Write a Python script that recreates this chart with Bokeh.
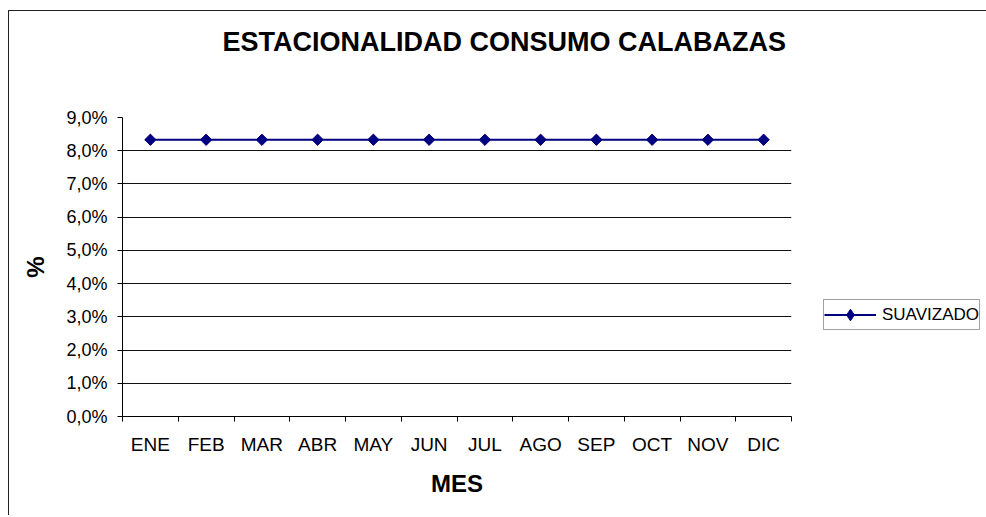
from bokeh.plotting import figure
from bokeh.models import ColumnDataSource, Range1d, FixedTicker, Legend, LegendItem, Title
from bokeh.embed import file_html
from bokeh.resources import INLINE
import math

# ---- data ----
months = ["ENE", "FEB", "MAR", "ABR", "MAY", "JUN", "JUL", "AGO", "SEP", "OCT", "NOV", "DIC"]
suavizado = [0.0833, 0.0833, 0.0833, 0.0833, 0.0833, 0.0833,
             0.0833, 0.0833, 0.0833, 0.0833, 0.0833, 0.0833]
y_ticks = [0.00, 0.01, 0.02, 0.03, 0.04, 0.05, 0.06, 0.07, 0.08, 0.09]
y_tick_labels = ["0,0%", "1,0%", "2,0%", "3,0%", "4,0%", "5,0%", "6,0%", "7,0%", "8,0%", "9,0%"]
series_name = "SUAVIZADO"
title_text = "ESTACIONALIDAD CONSUMO CALABAZAS"
x_title = "MES"
y_title = "%"

FONT = "Liberation Sans"
NAVY = "#000080"

x_centers = [i + 0.5 for i in range(len(months))]
x_bounds = [i for i in range(len(months) + 1)]

source = ColumnDataSource(data=dict(x=x_centers, y=suavizado, mes=months))
# first point only: carries the legend's diamond symbol (hidden under the real marker)
legend_source = ColumnDataSource(data=dict(x=x_centers[:1], y=suavizado[:1]))

p = figure(frame_width=669, frame_height=299, output_backend="svg", toolbar_location=None, title=None,
           x_range=Range1d(0, len(months)), y_range=Range1d(y_ticks[0], y_ticks[-1]),
           min_border_left=113, min_border_right=193, min_border_top=106, min_border_bottom=99,
           background_fill_color="white", border_fill_color="white")
p.outline_line_color = None
p.styles = {"border-top": "1px solid #222222", "border-left": "1px solid #222222",
            "margin-top": "10px", "margin-left": "8px"}

# spacer between title and plot area, then the title itself
spacer = Title(text=" ", text_font_size="10px", standoff=43, text_color="white")
p.add_layout(spacer, "above")
title = Title(text=title_text, text_font=FONT, text_font_size="27px", text_font_style="bold",
              text_color="black", align="left", offset=100)
p.add_layout(title, "above")

# x axis
xa = p.xaxis[0]
xa.ticker = FixedTicker(ticks=x_centers, minor_ticks=x_bounds)
xa.major_label_overrides = {c: m for c, m in zip(x_centers, months)}
xa.major_tick_out = 0
xa.major_tick_in = 0
xa.minor_tick_out = 5
xa.minor_tick_in = 0
xa.minor_tick_line_color = "black"
xa.axis_line_color = "black"
xa.major_label_text_font = FONT
xa.major_label_text_font_size = "19px"
xa.major_label_text_color = "black"
xa.major_label_standoff = 12
xa.axis_label = x_title
xa.axis_label_text_font = FONT
xa.axis_label_text_font_size = "24px"
xa.axis_label_text_font_style = "bold"
xa.axis_label_text_color = "black"
xa.axis_label_standoff = 12

# y axis
ya = p.yaxis[0]
ya.ticker = FixedTicker(ticks=y_ticks, minor_ticks=[])
ya.major_label_overrides = {t: l for t, l in zip(y_ticks, y_tick_labels)}
ya.major_tick_out = 5
ya.major_tick_in = 0
ya.major_tick_line_color = "black"
ya.minor_tick_line_color = None
ya.axis_line_color = "black"
ya.major_label_text_font = FONT
ya.major_label_text_font_size = "18px"
ya.major_label_text_color = "black"
ya.major_label_standoff = 10
ya.axis_label = y_title
ya.axis_label_text_font = FONT
ya.axis_label_text_font_size = "24px"
ya.axis_label_text_font_style = "bold"
ya.axis_label_text_color = "black"
ya.axis_label_standoff = 14

# grids
p.xgrid.grid_line_color = None
p.ygrid.ticker = FixedTicker(ticks=y_ticks)
p.ygrid.grid_line_color = "#111111"
p.ygrid.grid_line_width = 1

# series
ln = p.line("x", "y", source=source, line_color=NAVY, line_width=2)
mk_leg = p.scatter("x", "y", source=legend_source, marker="diamond", size=8,
                   fill_color=NAVY, line_color=NAVY)
mk = p.scatter("x", "y", source=source, marker="square", angle=math.pi / 4, size=8,
               fill_color=NAVY, line_color=NAVY)

legend = Legend(items=[LegendItem(label=series_name, renderers=[ln, mk_leg])],
                location=(32, 86), orientation="vertical",
                padding=0, spacing=0, margin=0,
                glyph_width=52, glyph_height=29, label_standoff=6,
                label_text_font=FONT, label_text_font_size="17px", label_text_color="black",
                border_line_color="#444444", border_line_width=1,
                background_fill_color="white", background_fill_alpha=1)
p.add_layout(legend, "right")

open("out.html", "w").write(file_html(p, INLINE))
